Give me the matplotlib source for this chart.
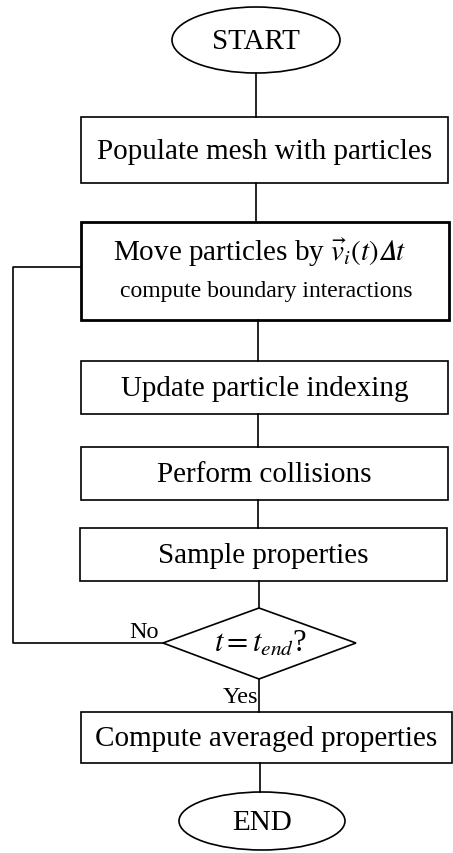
import matplotlib
matplotlib.use("Agg")
import matplotlib.pyplot as plt
from matplotlib.patches import Rectangle, Ellipse, Polygon

plt.rcParams['font.family'] = ['Liberation Serif', 'DejaVu Serif']
plt.rcParams['mathtext.fontset'] = 'stix'

# flowchart content
box_labels = [
    "Populate mesh with particles",
    "Move particles by $\\vec{v}_i\\mathit{(t)}\U0001D6E5\\mathit{t}$",
    "Update particle indexing",
    "Perform collisions",
    "Sample properties",
    "Compute averaged properties",
]
box_sublabel = "compute boundary interactions"
start_label = "START"
end_label = "END"
decision_label = "$t = t_{end}$?"
no_label = "No"
yes_label = "Yes"

# layout in pixel coords (x0, x1, y0, y1)
box_xy = [
    (81, 448, 118, 184),
    (81, 449, 223, 321),
    (81, 448, 362, 415),
    (81, 448, 448, 501),
    (80, 447, 529, 582),
    (81, 452, 713, 764),
]
start_xy = (256, 41, 168, 66)
end_xy = (262, 822, 166, 58)
diamond = (259, 644, 163, 356, 609, 680)

fig = plt.figure(figsize=(4.53, 8.54), dpi=100)
ax = fig.add_axes([0, 0, 1, 1])
ax.set_xlim(0, 453)
ax.set_ylim(854, 0)
ax.axis('off')

lw = 1.2
fs = 21

def vline(x, y0, y1):
    ax.plot([x, x], [y0, y1], color='black', lw=lw)

# terminals
for (cx, cy, w, h), lab in [(start_xy, start_label), (end_xy, end_label)]:
    ax.add_patch(Ellipse((cx, cy), w, h, fill=False, ec='black', lw=lw))
    ax.text(cx, cy + 1, lab, ha='center', va='center', fontsize=fs)

# process boxes
for i, ((x0, x1, y0, y1), lab) in enumerate(zip(box_xy, box_labels)):
    ax.add_patch(Rectangle((x0, y0), x1 - x0, y1 - y0, fill=False, ec='black',
                           lw=2.0 if i == 1 else lw))
    xc = (x0 + x1) / 2
    if i == 1:
        ax.text(xc - 5, 253, lab, ha='center', va='center', fontsize=fs)
        ax.text(xc + 1, 292, box_sublabel, ha='center', va='center', fontsize=17)
    else:
        ax.text(xc, (y0 + y1) / 2 + 1, lab, ha='center', va='center', fontsize=fs)

# decision
cx, cy, xl, xr, yt, yb = diamond
ax.add_patch(Polygon([(cx, yt), (xr, cy), (cx, yb), (xl, cy)], closed=True,
                     fill=False, ec='black', lw=lw))
ax.text(cx + 2, cy, decision_label, ha='center', va='center', fontsize=22)

# connectors
vline(256, 74, 118)
vline(256, 184, 223)
vline(258, 321, 362)
vline(258, 415, 448)
vline(258, 501, 529)
vline(259, 582, 609)
vline(259, 680, 713)
vline(260, 764, 793)

# loop back
ax.plot([xl, 13, 13, 81], [cy, cy, 268, 268], color='black', lw=lw)
ax.text(144, 633, no_label, ha='center', va='center', fontsize=17.5)
ax.text(240, 698, yes_label, ha='center', va='center', fontsize=17.5)

fig.savefig('out.png', dpi=100)
